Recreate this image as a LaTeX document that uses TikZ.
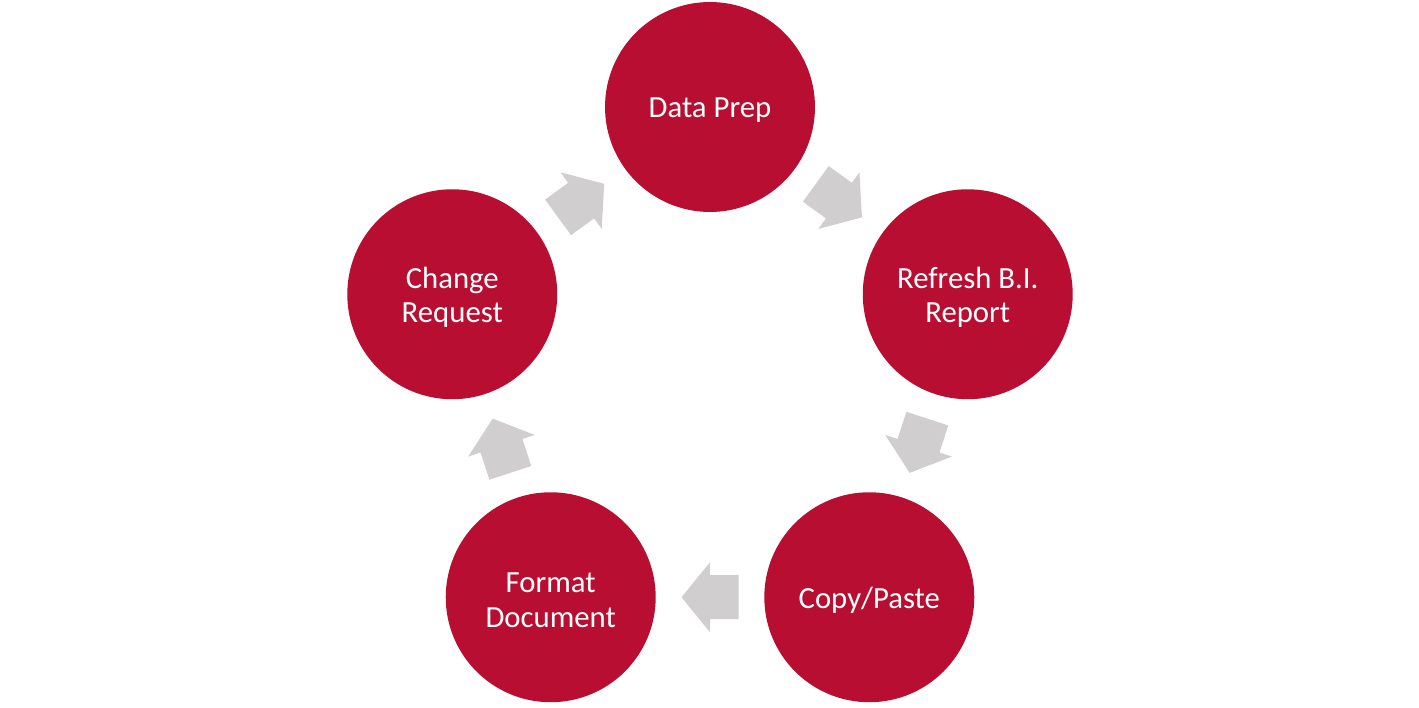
\documentclass[tikz,border=0pt]{standalone}
\usepackage{fontspec}
\setmainfont{Carlito}
\usetikzlibrary{calc}
\definecolor{cyclered}{RGB}{184,14,49}
\definecolor{arrowgray}{RGB}{208,206,206}
\tikzset{
  stagetext/.style={text=white,align=center,font=\fontsize{17.5}{19.5}\selectfont},
  stage/.style={circle,fill=cyclered,minimum size=4.2cm,inner sep=0pt,
    label={[stagetext,yshift=-0.06cm]center:#1}},
  blockarrow/.pic={\fill[arrowgray] (-28.5,22) -- (0,22) -- (0,35) -- (28.5,0) -- (0,-35) -- (0,-22) -- (-28.5,-22) -- cycle;}
}

\begin{document}
\begin{tikzpicture}[x=0.02cm,y=0.02cm]
	\useasboundingbox (0,0) rectangle (1419,707);
	\coordinate (mid) at (710,329);
	\node[stage={Data Prep}] (dp) at ($(mid)+(90:271)$) {};
	\node[stage={Refresh B.I.\\Report}] (rb) at ($(mid)+(18:271)$) {};
	\node[stage={Copy/Paste}] (cp) at ($(mid)+(-54:271)$) {};
	\node[stage={Format\\Document}] (fd) at ($(mid)+(-126:271)$) {};
	\node[stage={Change\\Request}] (cr) at ($(mid)+(162:271)$) {};
	% arrows half way between the stages
	\foreach \from/\to/\ang in {dp/rb/-36, rb/cp/-108, cp/fd/180, fd/cr/108, cr/dp/36}
		\pic[rotate=\ang] at ($(\from)!0.5!(\to)$) {blockarrow};
\end{tikzpicture}
\end{document}
